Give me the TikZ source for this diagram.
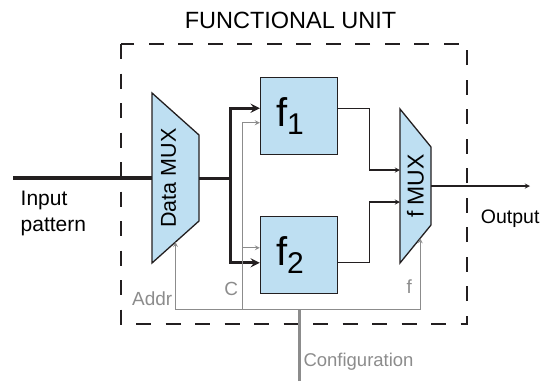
\documentclass[tikz,border=0pt]{standalone}
\usepackage{fontspec}
\setmainfont{Liberation Sans}
\usepackage{tikz}
\usetikzlibrary{arrows,shapes,positioning,calc}
\definecolor{fublue}{RGB}{190,223,242}
\definecolor{fuline}{RGB}{35,31,32}
\definecolor{fugray}{RGB}{140,140,140}
\tikzstyle{fbox} = [draw=fuline, line width=1.3pt, fill=fublue, minimum width=77pt, minimum height=77pt, inner sep=0pt, font=\fontsize{40}{40}\selectfont]
\tikzstyle{muxarea} = [inner sep=0pt, outer sep=0pt]
\tikzstyle{muxshape} = [draw=fuline, line width=1.3pt, fill=fublue]
\tikzstyle{arrow} = [line width=1.3pt,->,>=stealth,color=fuline]
\tikzstyle{bus} = [line width=3pt,->,>=stealth,color=fuline]
\tikzstyle{cfgarrow} = [line width=1.2pt,->,>=stealth,color=fugray]
\tikzstyle{graylabel} = [text=fugray, inner sep=0pt, font=\fontsize{19}{19}\selectfont]
\newcommand{\fsub}[1]{\raisebox{-8pt}{\fontsize{30}{30}\selectfont #1}}

\begin{document}
\begin{tikzpicture}[x=1pt,y=-1pt]
\useasboundingbox (0,0) rectangle (547,381);

% Functional unit frame
\draw[line width=1.3pt, fuline, dash pattern=on 15pt off 14.5pt] (121,44) rectangle (467,324);
\node[anchor=base, font=\fontsize{23.5}{23.5}\selectfont] (title) at (290.5,28.3) {FUNCTIONAL UNIT};

% Data MUX
\node[muxarea, minimum width=47pt, minimum height=170pt] (dmux) at (175.5,178) {};
\coordinate (dmuxtr) at ($(dmux.north east)+(0,42)$);
\coordinate (dmuxbr) at ($(dmux.south east)+(0,-42)$);
\draw[muxshape] (dmux.north west) -- (dmuxtr) -- (dmuxbr) -- (dmux.south west) -- cycle;
\node[rotate=90, font=\fontsize{21.5}{21.5}\selectfont] (dmuxtext) at ([xshift=-7pt]dmux.center) {Data MUX};
\coordinate (addrin) at ($(dmux.south west)!0.5!(dmuxbr)$);

% f MUX
\node[muxarea, minimum width=31pt, minimum height=154pt] (fmux) at (415.5,186) {};
\coordinate (fmuxtr) at ($(fmux.north east)+(0,38)$);
\coordinate (fmuxbr) at ($(fmux.south east)+(0,-38)$);
\draw[muxshape] (fmux.north west) -- (fmuxtr) -- (fmuxbr) -- (fmux.south west) -- cycle;
\node[rotate=90, font=\fontsize{23}{23}\selectfont] (fmuxtext) at (fmux.center) {f MUX};
\coordinate (selin) at ($(fmux.south west)!0.65!(fmuxbr)$);

% Functions
\node[fbox] (f1) at (299,115.7) {f\fsub{1}\hspace*{18pt}};
\node[fbox] (f2) at (299,255.3) {f\fsub{2}\hspace*{18pt}};

% Data path
\coordinate (inp) at (13,178);
\coordinate (split) at (230,178);
\coordinate (outp) at (530,186);
\draw[line width=4.5pt, fuline] (inp) -- (dmux.west);
\draw[line width=3pt, fuline] (dmux.east) -- (split);
\draw[bus] (split) |- ([yshift=7.5pt]f1.west);
\draw[bus] (split) |- ([yshift=-7.5pt]f2.west);
\draw[arrow] ([yshift=7.5pt]f1.east) -- ++(31,0) |- ([yshift=16pt]fmux.west);
\draw[arrow] ([yshift=-7.5pt]f2.east) -- ++(31,0) |- ([yshift=-16pt]fmux.west);
\draw[arrow] (fmux.east) -- (outp);

% Configuration
\coordinate (cfgin) at (299.3,381);
\coordinate (cfgjoin) at (299.3,309.5);
\coordinate (ctap) at (242.7,309.5);
\coordinate (f2cin) at ([yshift=7.5pt]f2.west);
\draw[line width=3pt, fugray] (cfgin) -- (cfgjoin);
\draw[cfgarrow,<->] (addrin) |- (cfgjoin) -| (selin);
\draw[cfgarrow] (ctap) |- ([yshift=-7pt]f1.west);
\draw[cfgarrow] (f2cin -| ctap) -- (f2cin);

% Labels
\node[anchor=base west, align=left, inner sep=0pt, font=\fontsize{21}{26.7}\selectfont] (inlabel) at (20.5,231.7) {Input\\pattern};
\node[anchor=base west, inner sep=0pt, font=\fontsize{19.5}{19.5}\selectfont] (outlabel) at (480.7,223.3) {Output};
\node[graylabel, anchor=base west, font=\fontsize{18.5}{18.5}\selectfont] (cfglabel) at (303.3,366.7) {Configuration};
\node[graylabel, anchor=base east] (addrlabel) at (172.5,305) {Addr};
\node[graylabel, anchor=base east] (clabel) at (238.3,295) {C};
\node[graylabel, anchor=base east] (flabel) at (412,293.5) {f};
\end{tikzpicture}
\end{document}
